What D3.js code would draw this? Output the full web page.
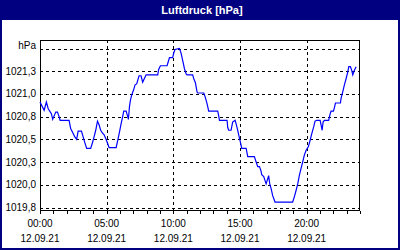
<!DOCTYPE html>
<html>
<head>
<meta charset="utf-8">
<script src="https://cdn.jsdelivr.net/npm/d3@7"></script>
<style>
  body { margin: 0; background: #fff; }
  text { font-family: 'Liberation Sans', Arial, sans-serif; }
</style>
</head>
<body>
<script>
const width = 400;
const height = 250;

const TITLE = 'Luftdruck [hPa]';
const FRAME_COLOR = '#000080';
const LINE_COLOR = '#0000ff';

// hours since 00:00 on 12.09.21
const hours = [
	0.00, 0.31, 0.48, 0.61, 0.73, 0.86, 0.95, 1.18, 1.31, 1.43, 1.51, 2.18, 2.30, 2.43, 2.60, 2.75,
	2.86, 3.11, 3.23, 3.35, 3.50, 3.80, 3.93, 4.06, 4.18, 4.31, 4.43, 4.55, 4.68, 4.81, 4.93, 5.06,
	5.18, 5.71, 5.83, 5.96, 6.08, 6.20, 6.28, 6.46, 6.58, 6.63, 6.71, 6.78, 6.88, 7.01, 7.13, 7.25,
	7.33, 7.43, 7.58, 7.70, 7.83, 7.96, 8.83, 8.90, 9.03, 9.53, 9.63, 9.71, 9.95, 10.03, 10.13, 10.46,
	10.58, 10.70, 10.83, 10.96, 11.03, 11.45, 11.53, 11.66, 11.78, 11.83, 12.28, 12.38, 12.50, 12.58,
	12.65, 13.33, 13.40, 13.46, 14.03, 14.08, 14.15, 14.33, 14.45, 14.63, 14.71, 14.83, 14.96, 15.03,
	15.13, 15.46, 15.58, 16.08, 16.21, 16.33, 16.46, 16.58, 16.63, 16.78, 16.96, 17.15, 17.23, 17.33,
	17.45, 17.63, 18.95, 19.08, 19.21, 19.33, 19.46, 19.58, 19.70, 19.83, 19.96, 20.13, 20.26, 20.38,
	20.53, 20.63, 20.75, 21.01, 21.08, 21.16, 21.23, 21.33, 21.65, 21.76, 21.83, 22.01, 22.08, 22.16,
	22.53, 22.58, 22.70, 22.83, 22.96, 23.08, 23.16, 23.28, 23.38, 23.46, 23.58, 23.71
];
const pressure = [
	1020.91, 1020.82, 1020.91, 1020.84, 1020.81, 1020.78, 1020.72, 1020.80, 1020.80, 1020.75, 1020.71, 1020.71, 1020.62, 1020.58, 1020.53, 1020.50,
	1020.59, 1020.59, 1020.53, 1020.47, 1020.40, 1020.40, 1020.46, 1020.53, 1020.60, 1020.70, 1020.66, 1020.60, 1020.57, 1020.55, 1020.51, 1020.46,
	1020.41, 1020.41, 1020.49, 1020.58, 1020.67, 1020.75, 1020.81, 1020.81, 1020.75, 1020.72, 1020.86, 1020.93, 1020.99, 1021.04, 1021.10, 1021.11,
	1021.15, 1021.20, 1021.20, 1021.13, 1021.17, 1021.21, 1021.21, 1021.27, 1021.31, 1021.31, 1021.36, 1021.40, 1021.40, 1021.45, 1021.49, 1021.50,
	1021.45, 1021.37, 1021.28, 1021.22, 1021.21, 1021.21, 1021.17, 1021.12, 1021.02, 1021.01, 1021.01, 1020.97, 1020.91, 1020.86,
	1020.81, 1020.81, 1020.76, 1020.71, 1020.71, 1020.63, 1020.60, 1020.60, 1020.69, 1020.71, 1020.67, 1020.60, 1020.51, 1020.47,
	1020.40, 1020.40, 1020.31, 1020.31, 1020.25, 1020.20, 1020.20, 1020.15, 1020.11, 1020.09, 1020.01, 1020.10, 1020.01, 1019.96,
	1019.88, 1019.81, 1019.81, 1019.87, 1019.94, 1020.01, 1020.11, 1020.18, 1020.25, 1020.33, 1020.38, 1020.42, 1020.49, 1020.56,
	1020.64, 1020.70, 1020.71, 1020.71, 1020.66, 1020.60, 1020.69, 1020.71, 1020.71, 1020.78, 1020.81, 1020.81, 1020.85, 1020.90,
	1020.90, 1020.95, 1021.02, 1021.10, 1021.17, 1021.24, 1021.30, 1021.30, 1021.26, 1021.21, 1021.26, 1021.30
];

const yTicks = [1019.75, 1020.0, 1020.25, 1020.5, 1020.75, 1021.0, 1021.25, 1021.5];
const yTickLabels = ['1019,8', '1020,0', '1020,3', '1020,5', '1020,8', '1021,0', '1021,3', 'hPa'];
const xTicks = [0, 5, 10, 15, 20];
const xTickLabels = ['00:00', '05:00', '10:00', '15:00', '20:00'];
const dateLabel = '12.09.21';

const plot = { left: 40, top: 40, right: 360, bottom: 210 };

const x = d3.scaleLinear().domain([0, 24]).range([plot.left, plot.right]);
const y = d3.scaleLinear().domain([1019.75, 1021.5]).range([207.5, 48.5]);

const svg = d3.select('body')
	.append('svg')
	.attr('width', width)
	.attr('height', height);

// frame and title bar
svg.append('rect')
	.attr('width', width)
	.attr('height', height)
	.attr('fill', FRAME_COLOR);

svg.append('rect')
	.attr('x', 2)
	.attr('y', 20)
	.attr('width', width - 4)
	.attr('height', height - 22)
	.attr('fill', '#fff');

svg.append('text')
	.attr('x', 202)
	.attr('y', 14)
	.attr('text-anchor', 'middle')
	.attr('fill', '#fff')
	.attr('font-size', 11)
	.attr('font-weight', 'bold')
	.text(TITLE);

// grid
const grid = svg.append('g')
	.attr('stroke', '#000')
	.attr('stroke-width', 1)
	.attr('stroke-dasharray', '3,3')
	.attr('shape-rendering', 'crispEdges');

grid.selectAll('line.h')
	.data(yTicks)
	.enter()
	.append('line')
	.attr('x1', plot.left)
	.attr('x2', plot.right)
	.attr('y1', d => Math.round(y(d)) + 0.5)
	.attr('y2', d => Math.round(y(d)) + 0.5);

grid.selectAll('line.v')
	.data(xTicks.slice(1))
	.enter()
	.append('line')
	.attr('x1', d => Math.round(x(d)) + 0.5)
	.attr('x2', d => Math.round(x(d)) + 0.5)
	.attr('y1', plot.top)
	.attr('y2', plot.bottom);

// y labels
svg.append('g')
	.selectAll('text')
	.data(yTicks)
	.enter()
	.append('text')
	.attr('x', 36)
	.attr('y', (d, i) => i === yTicks.length - 1 ? y(d) + 0.5 : y(d) + 3.5)
	.attr('text-anchor', 'end')
	.attr('font-size', 10)
	.attr('fill', '#000')
	.text((d, i) => yTickLabels[i]);

// bottom axis with hourly ticks, pointing down
const xAxis = d3.axisBottom(x)
	.ticks(24)
	.tickSize(3)
	.tickFormat('');

svg.append('g')
	.attr('transform', `translate(0,${plot.bottom + 0.5})`)
	.attr('shape-rendering', 'crispEdges')
	.call(xAxis)
	.call(g => g.select('.domain').remove());

// x labels
const xLab = svg.append('g')
	.selectAll('g')
	.data(xTicks)
	.enter()
	.append('g')
	.attr('transform', d => `translate(${x(d)},0)`);

xLab.append('text')
	.attr('y', 227)
	.attr('text-anchor', 'middle')
	.attr('font-size', 10)
	.text((d, i) => xTickLabels[i]);

xLab.append('text')
	.attr('y', 242)
	.attr('text-anchor', 'middle')
	.attr('font-size', 10)
	.text(dateLabel);

// plot border
svg.append('rect')
	.attr('x', plot.left + 0.5)
	.attr('y', plot.top + 0.5)
	.attr('width', plot.right - plot.left - 1)
	.attr('height', plot.bottom - plot.top)
	.attr('fill', 'none')
	.attr('stroke', '#000')
	.attr('shape-rendering', 'crispEdges');

// pressure line
const line = d3.line()
	.x(d => x(d[0]))
	.y(d => y(d[1]));

svg.append('path')
	.datum(d3.zip(hours, pressure))
	.attr('d', line)
	.attr('fill', 'none')
	.attr('stroke', LINE_COLOR)
	.attr('stroke-width', 1.2);
</script>
</body>
</html>
